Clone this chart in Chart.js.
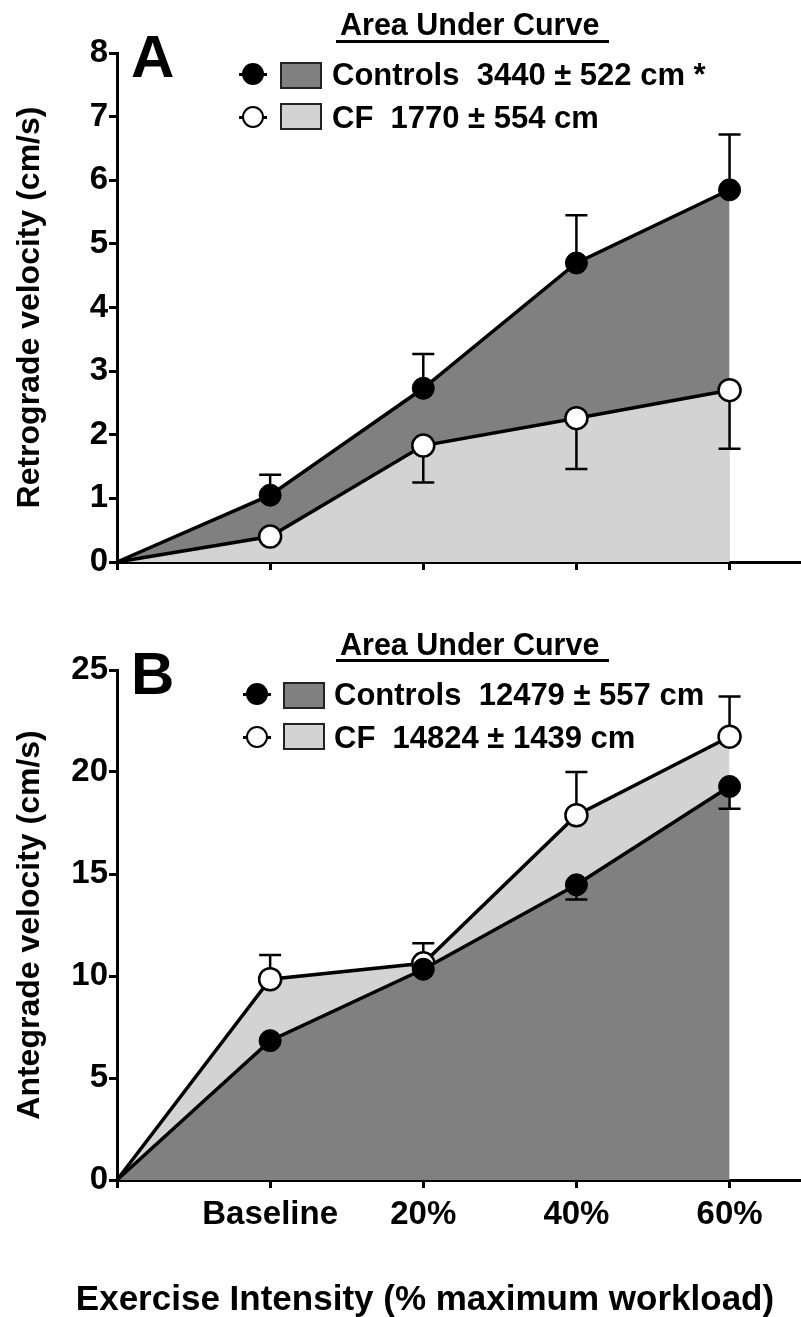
<!DOCTYPE html>
<html>
<head>
<meta charset="utf-8">
<script src="https://cdn.jsdelivr.net/npm/chart.js@4.4.1/dist/chart.umd.min.js"></script>
<style>
    html, body { margin: 0; padding: 0; background: #fff; }
    #page { position: relative; width: 801px; height: 1317px; overflow: hidden; font-family: "Liberation Sans", Arial, sans-serif; font-weight: bold; color: #000; }
    canvas { position: absolute; left: 0; }
    .txt { position: absolute; white-space: pre; line-height: 1; }
    .letter { font-size: 60px; }
    .aucTitle { font-size: 30.5px; }
    .rule { position: absolute; height: 3px; background: #000; }
    .row { font-size: 31px; }
    .box { position: absolute; width: 38px; height: 23px; border: 2px solid #222; }
    .dot { position: absolute; width: 18px; height: 18px; border-radius: 50%; border: 2px solid #000; }
    .stub { position: absolute; height: 3px; background: #000; width: 28px; }
    .xtitle { font-size: 35px; }
</style>
</head>
<body>
<div id="page">
    <canvas id="chartA" width="801" height="600" style="top:0"></canvas>
    <canvas id="chartB" width="801" height="717" style="top:600px"></canvas>

    <div class="txt letter" style="left:131px; top:27px">A</div>
    <div class="txt aucTitle" style="left:340px; top:9px">Area Under Curve</div>
    <div class="rule" style="left:336px; top:40px; width:273px"></div>
    <div class="stub" style="left:239px; top:73px"></div>
    <div class="dot" style="left:242px; top:63px; background:#000"></div>
    <div class="box" style="left:280px; top:62px; background:#808080"></div>
    <div class="txt row" style="left:332px; top:59px">Controls  3440 ± 522 cm *</div>
    <div class="stub" style="left:239px; top:116px"></div>
    <div class="dot" style="left:242px; top:106px; background:#fff"></div>
    <div class="box" style="left:280px; top:103px; background:#d3d3d3"></div>
    <div class="txt row" style="left:332px; top:102px">CF  1770 ± 554 cm</div>

    <div class="txt letter" style="left:131px; top:644px">B</div>
    <div class="txt aucTitle" style="left:340px; top:629px">Area Under Curve</div>
    <div class="rule" style="left:336px; top:659px; width:273px"></div>
    <div class="stub" style="left:243px; top:693px"></div>
    <div class="dot" style="left:246px; top:683px; background:#000"></div>
    <div class="box" style="left:283px; top:682px; background:#808080"></div>
    <div class="txt row" style="left:334px; top:679px">Controls  12479 ± 557 cm</div>
    <div class="stub" style="left:243px; top:736px"></div>
    <div class="dot" style="left:246px; top:726px; background:#fff"></div>
    <div class="box" style="left:283px; top:723px; background:#d3d3d3"></div>
    <div class="txt row" style="left:334px; top:722px">CF  14824 ± 1439 cm</div>

    <div class="txt xtitle" style="left:0; width:850px; text-align:center; top:1280px">Exercise Intensity (% maximum workload)</div>
</div>
<script>
// x positions: 0 is the origin, then one slot per exercise level
const xPos = [0, 1, 2, 3, 4];
const xLabels = ['', 'Baseline', '20%', '40%', '60%'];

// Panel A - retrograde velocity (cm/s)
const retroControls = [0, 1.05, 2.73, 4.70, 5.85];
const retroControlsSem = [0, 0.32, 0.54, 0.75, 0.87];
const retroCF = [0, 0.40, 1.83, 2.26, 2.70];
const retroCFSem = [0, 0.10, 0.58, 0.80, 0.92];
const retroTicks = [0, 1, 2, 3, 4, 5, 6, 7, 8];

// Panel B - antegrade velocity (cm/s)
const anteControls = [0, 6.83, 10.33, 14.47, 19.29];
const anteControlsSem = [0, 0.30, 0.30, 0.72, 1.09];
const anteCF = [0, 9.84, 10.62, 17.88, 21.73];
const anteCFSem = [0, 1.19, 0.98, 2.12, 1.97];
const anteTicks = [0, 5, 10, 15, 20, 25];

const FONT = 'Liberation Sans, Arial, sans-serif';
const DARK = '#808080';
const LIGHT = '#d3d3d3';
const R = 11;

const toPoints = vals => vals.map((v, i) => ({ x: xPos[i], y: v }));

// error bars: one-sided, drawn from the marker edge outward
const errorBars = {
    id: 'errorBars',
    afterDatasetsDraw(chart) {
        const ctx = chart.ctx;
        const ys = chart.scales.y;
        const xs = chart.scales.x;
        ctx.save();
        ctx.strokeStyle = '#000';
        ctx.lineWidth = 2.5;
        chart.data.datasets.forEach(ds => {
            ds.data.forEach((p, i) => {
                const sem = ds.sem[i];
                if (!sem || i === 0) return;
                const px = xs.getPixelForValue(p.x);
                const py = ys.getPixelForValue(p.y);
                const ey = ys.getPixelForValue(p.y + ds.errDir * sem);
                if (Math.abs(ey - py) <= R + 1) return;
                const start = py + (ey > py ? R : -R);
                ctx.beginPath();
                ctx.moveTo(px, start);
                ctx.lineTo(px, ey);
                ctx.moveTo(px - 11, ey);
                ctx.lineTo(px + 11, ey);
                ctx.stroke();
            });
        });
        ctx.restore();
    }
};

function makeChart(id, cfg) {
    const tickFont = { family: FONT, size: 33, weight: 'bold' };
    return new Chart(document.getElementById(id), {
        type: 'line',
        data: {
            datasets: [
                {
                    label: 'Controls',
                    data: toPoints(cfg.controls),
                    sem: cfg.controlsSem,
                    errDir: cfg.controlsDir,
                    order: cfg.controlsOrder,
                    borderColor: '#000',
                    borderWidth: 3.5,
                    backgroundColor: DARK,
                    fill: 'origin',
                    pointRadius: [0, R, R, R, R],
                    pointBackgroundColor: '#000',
                    pointBorderColor: '#000',
                    pointBorderWidth: 1,
                    tension: 0,
                    clip: false
                },
                {
                    label: 'CF',
                    data: toPoints(cfg.cf),
                    sem: cfg.cfSem,
                    errDir: cfg.cfDir,
                    order: cfg.cfOrder,
                    borderColor: '#000',
                    borderWidth: 3.5,
                    backgroundColor: LIGHT,
                    fill: 'origin',
                    pointRadius: [0, R, R, R, R],
                    pointBackgroundColor: '#fff',
                    pointBorderColor: '#000',
                    pointBorderWidth: 2.5,
                    tension: 0,
                    clip: false
                }
            ]
        },
        options: {
            responsive: false,
            animation: false,
            devicePixelRatio: 1,
            layout: { autoPadding: false, padding: { top: cfg.padTop, right: 1, left: 0, bottom: 0 } },
            plugins: { legend: { display: false }, tooltip: { enabled: false } },
            scales: {
                x: {
                    type: 'linear',
                    min: 0,
                    max: 4.46,
                    afterBuildTicks: s => { s.ticks = xPos.map(v => ({ value: v })); },
                    afterFit: s => {
                        s.height = cfg.xHeight;
                        s.paddingLeft = 0;
                        s.paddingRight = 0;
                    },
                    ticks: {
                        display: cfg.showX,
                        callback: (v, i) => xLabels[i],
                        font: tickFont,
                        color: '#000',
                        padding: 7,
                        maxRotation: 0,
                        autoSkip: false
                    },
                    grid: { drawOnChartArea: false, drawTicks: true, tickLength: 8, tickWidth: 3, tickColor: '#000' },
                    border: { display: true, color: '#000', width: 3 }
                },
                y: {
                    min: 0,
                    max: cfg.yTicks[cfg.yTicks.length - 1],
                    afterBuildTicks: s => { s.ticks = cfg.yTicks.map(v => ({ value: v })); },
                    afterFit: s => { s.width = 117; },
                    ticks: { font: tickFont, color: '#000', padding: 1 },
                    grid: { drawOnChartArea: false, drawTicks: true, tickLength: 8, tickWidth: 3, tickColor: '#000' },
                    border: { display: true, color: '#000', width: 3 },
                    title: {
                        display: true,
                        text: cfg.yTitle,
                        color: '#000',
                        font: { family: FONT, size: 32, weight: 'bold' },
                        padding: { top: 11, bottom: 0 }
                    }
                }
            }
        },
        plugins: [errorBars]
    });
}

makeChart('chartA', {
    controls: retroControls, controlsSem: retroControlsSem, controlsDir: 1, controlsOrder: 2,
    cf: retroCF, cfSem: retroCFSem, cfDir: -1, cfOrder: 1,
    yTicks: retroTicks, yTitle: 'Retrograde velocity (cm/s)',
    padTop: 53, xHeight: 38, showX: false
});

makeChart('chartB', {
    controls: anteControls, controlsSem: anteControlsSem, controlsDir: -1, controlsOrder: 1,
    cf: anteCF, cfSem: anteCFSem, cfDir: 1, cfOrder: 2,
    yTicks: anteTicks, yTitle: 'Antegrade velocity (cm/s)',
    padTop: 70, xHeight: 137, showX: true
});
</script>
</body>
</html>
